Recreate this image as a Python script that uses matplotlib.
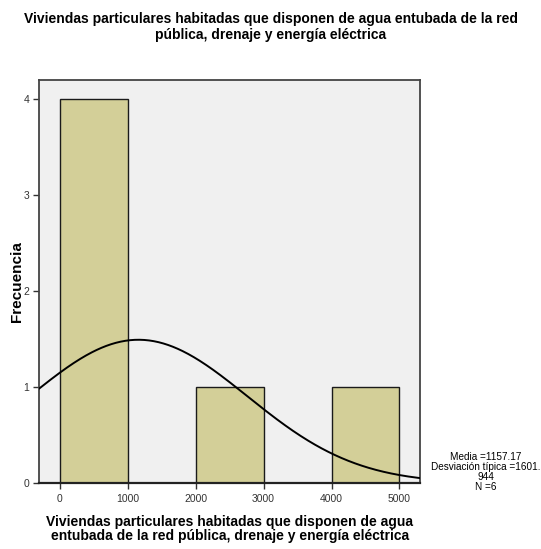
import numpy as np
import matplotlib
matplotlib.use('Agg')
import matplotlib.pyplot as plt

# histograma de viviendas con agua entubada, drenaje y electricidad
bordes = [0, 1000, 2000, 3000, 4000, 5000]
frecuencias = [4, 0, 1, 0, 1]
media = 1157.17
desv = 1601.944
n = 6

plt.rcParams['font.family'] = ['Liberation Sans', 'DejaVu Sans']

fig = plt.figure(figsize=(5.41, 5.49), dpi=100)
ax = fig.add_axes([0.073, 0.120, 0.703, 0.734])
ax.set_facecolor('#f0f0f0')

anchos = np.diff(bordes)
ax.bar(bordes[:-1], frecuencias, width=anchos, align='edge',
       color='#d3cf98', edgecolor='#1a1a1a', linewidth=1.0, zorder=2)

# curva normal escalada a N * ancho de clase
x = np.linspace(-300, 5300, 400)
y = n * anchos[0] * np.exp(-0.5 * ((x - media) / desv) ** 2) / (desv * np.sqrt(2 * np.pi))
ax.plot(x, y, color='black', linewidth=1.4, zorder=3)

ax.set_xlim(-300, 5300)
ax.set_ylim(0, 4.2)
ax.set_xticks(bordes)
ax.set_yticks([0, 1, 2, 3, 4])
ax.tick_params(direction='out', length=4, width=1, labelsize=7.5, colors='#333333')
for s in ax.spines.values():
    s.set_color('#444444')
    s.set_linewidth(1.3)
ax.spines['bottom'].set_color('#222222')
ax.spines['bottom'].set_linewidth(1.6)

ax.set_ylabel('Frecuencia', fontsize=11, fontweight='bold')
ax.yaxis.set_label_coords(-0.042, 0.5)
ax.set_xlabel('Viviendas particulares habitadas que disponen de agua\n'
              'entubada de la red pública, drenaje y energía eléctrica',
              fontsize=10, fontweight='bold', labelpad=8, linespacing=1.05)

fig.suptitle('Viviendas particulares habitadas que disponen de agua entubada de la red\n'
             'pública, drenaje y energía eléctrica',
             x=0.5, y=0.978, fontsize=10, fontweight='bold', linespacing=1.2)

fig.text(0.898, 0.14, 'Media =1157.17\nDesviación típica =1601.\n944\nN =6',
         ha='center', va='center', fontsize=7.2, linespacing=1.0)

fig.savefig('out.png', dpi=100)
